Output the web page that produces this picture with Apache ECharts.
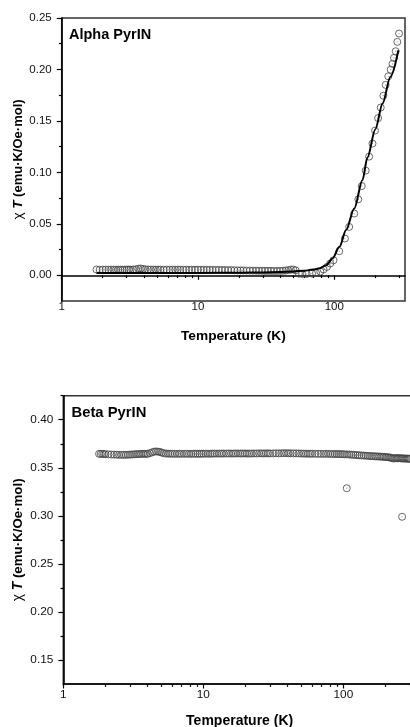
<!DOCTYPE html>
<html><head><meta charset="utf-8">
<script src="https://cdn.jsdelivr.net/npm/echarts@6/dist/echarts.min.js"></script>
<style>html,body{margin:0;padding:0;background:#fff}#c{width:410px;height:727px}</style>
</head><body><div id="c"></div>
<script>
// ---------- DATA ----------
const alphaTitle = 'Alpha PyrIN';
const betaTitle = 'Beta PyrIN';
const xTitle = 'Temperature (K)';

const xMajorTicks = [1, 10, 100];
const xMinorTicks = [2,3,4,5,6,7,8,9,20,30,40,50,60,70,80,90,200,300];
const alphaYMajor = [0, 0.05, 0.10, 0.15, 0.20, 0.25];
const alphaYMinor = [0.025, 0.075, 0.125, 0.175, 0.225];
const betaYMajor = [0.15, 0.20, 0.25, 0.30, 0.35, 0.40];
const betaYMinor = [0.175, 0.225, 0.275, 0.325, 0.375, 0.425];

const alphaT = [1.8,1.9,2.0,2.1,2.2,2.3,2.4,2.5,2.6,2.7,2.8,2.9,3.0,3.1,3.2,3.35,3.5,3.65,3.8,3.95,
  4.1,4.3,4.5,4.7,4.9,5.1,5.3,5.6,5.9,6.2,6.5,6.8,7.1,7.4,7.8,8.2,8.6,9.0,9.5,10,
  10.5,11,11.6,12.2,12.8,13.5,14.2,15,15.8,16.6,17.5,18.5,19.5,20.5,21.5,22.7,24,25.3,26.7,28,
  29.5,31,32.6,34.3,36,38,40,42,44,46,48,50,52,
  55,58,62.7,68.6,73.4,78.9,83.4,88.3,93.3,98.6,108.7,119.6,128.5,140,150,159,170,180,
  190.5,199,209.5,219,229,238,249,259,267,274,282,290,298.5];
const alphaChi = [0.0056,0.0054,0.0055,0.0055,0.0054,0.0055,0.0055,0.0054,0.0055,0.0055,0.0054,0.0055,0.0055,0.0056,0.0055,0.0056,0.0058,0.0064,0.0066,0.0062,
  0.0058,0.0056,0.0055,0.0055,0.0054,0.0055,0.0055,0.0054,0.0055,0.0054,0.0055,0.0054,0.0055,0.0054,0.0054,0.0054,0.0053,0.0054,0.0053,0.0054,
  0.0054,0.0053,0.0053,0.0053,0.0052,0.0052,0.0052,0.0051,0.0051,0.0050,0.0050,0.0049,0.0048,0.0048,0.0047,0.0046,0.0046,0.0045,0.0045,0.0044,
  0.0044,0.0043,0.0043,0.0043,0.0042,0.0042,0.0043,0.0044,0.0046,0.0050,0.0055,0.0056,0.0048,
  0.0016,0.0013,0.0013,0.0017,0.0022,0.0036,0.0056,0.0081,0.0114,0.0146,0.0234,0.0357,0.047,0.060,0.0738,0.0867,0.1017,0.1153,
  0.128,0.1406,0.1527,0.163,0.1745,0.185,0.1933,0.1998,0.2054,0.2112,0.2177,0.2268,0.2349];

const fitT = [1.8,5,10,20,30,40,50,60,70,78,87,97,109,122,140,161,175,200,226,258,295];
const fitChi = [0.0022,0.0022,0.0023,0.0025,0.0028,0.0031,0.0036,0.0045,0.0055,0.0068,0.0097,0.0163,0.0276,0.0439,0.065,0.0926,0.1145,0.142,0.167,0.193,0.2186];

const betaT = [1.8,1.85,1.9,1.95,2.0,2.1,2.2,2.3,2.4,
  2.5,2.6,2.7,2.8,2.9,3.0,3.1,3.2,
  3.3,3.4,3.5,3.6,3.7,3.8,3.9,4.0,
  4.15,4.3,4.45,4.6,4.75,4.9,5.05,5.2,
  5.4,5.6,5.8,6.0,6.25,6.5,6.75,7.0,
  7.3,7.6,7.9,8.2,8.5,8.8,9.1,9.4,9.7,
  10,10.4,10.8,11.2,11.6,12,12.5,13,13.5,14,
  14.6,15.2,15.8,16.4,17,17.7,18.4,19.1,19.8,20.5,
  21.3,22.1,23,24,25,26,27,28,29,30,
  31.5,33,34.5,36,37.5,39,40.5,42,44,46,48,50,
  52,54,56,58,60,63,66,69,72,75,78,81,84,87,90,93,96,99,
  102,105.7,106,110,114,118,122,126,130,135,140,145,150,155,160,
  165,170,175,180,185,190,195,200,205,210,215,220,225,230,235,240,245,250,255,260,262.6,265,270,275,280,285,290,295,300];
const betaChi = [0.3645,0.3644,0.3645,0.3643,0.3642,0.3640,0.3638,0.3637,0.3636,
  0.3635,0.3634,0.3635,0.3634,0.3636,0.3637,0.3638,0.3640,
  0.3641,0.3642,0.3643,0.3644,0.3645,0.3645,0.3644,0.3645,
  0.3652,0.3660,0.3668,0.3670,0.3668,0.3664,0.3658,0.3652,
  0.3648,0.3647,0.3646,0.3646,0.3645,0.3645,0.3646,0.3645,
  0.3645,0.3646,0.3645,0.3645,0.3646,0.3646,0.3645,0.3646,0.3646,
  0.3646,0.3647,0.3646,0.3646,0.3647,0.3648,0.3647,0.3648,0.3648,0.3648,
  0.3648,0.3649,0.3648,0.3648,0.3649,0.3649,0.3648,0.3649,0.3649,0.3648,
  0.3648,0.3648,0.3649,0.3649,0.3650,0.3650,0.3649,0.3650,0.3650,0.3649,
  0.3650,0.3651,0.3650,0.3651,0.3652,0.3652,0.3651,0.3651,0.3650,0.3650,0.3649,0.3648,
  0.3647,0.3647,0.3646,0.3646,0.3646,0.3645,0.3645,0.3645,0.3644,0.3645,0.3644,0.3644,0.3643,0.3643,0.3643,0.3642,0.3642,0.3641,
  0.3640,0.3287,0.3639,0.3638,0.3636,0.3635,0.3633,0.3632,0.3630,0.3628,0.3627,0.3625,0.3624,0.3622,0.3621,
  0.3620,0.3619,0.3618,0.3617,0.3616,0.3615,0.3613,0.3612,0.3611,0.3609,0.3607,0.3603,0.3599,0.3596,0.3602,0.3600,0.3598,0.3601,0.3599,0.3597,0.299,0.3598,0.3596,0.3597,0.3595,0.3596,0.3594,0.3595,0.3593];

// ---------- CHART ----------
const FONT = "'Liberation Sans', Arial, Helvetica, sans-serif";
const zip = (a, b) => a.map((v, i) => [v, b[i]]);

function xAxesFor(grid, fs, labelMargin, nameGap) {
  return [
    { gridIndex: grid, type: 'log', logBase: 10, min: 1, max: 330, position: 'bottom',
      name: xTitle, nameLocation: 'middle', nameGap: nameGap, nameMoveOverlap: false,
      nameTextStyle: { fontFamily: FONT, fontWeight: 'bold', fontSize: fs + 2.2, color: '#000' },
      axisLine: { show: true, lineStyle: { color: '#000', width: 1.6 } },
      axisTick: { show: true, inside: false, length: 4.5, lineStyle: { color: '#000', width: 1.2 }, customValues: xMajorTicks },
      axisLabel: { show: true, customValues: xMajorTicks, margin: labelMargin, fontFamily: FONT, fontSize: fs, color: '#111',
        formatter: v => String(Math.round(v)) },
      splitLine: { show: false } },
    { gridIndex: grid, type: 'log', logBase: 10, min: 1, max: 330, position: 'bottom',
      axisLine: { show: false },
      axisTick: { show: true, inside: false, length: 2.8, lineStyle: { color: '#000', width: 1.2 }, customValues: xMinorTicks },
      axisLabel: { show: false }, splitLine: { show: false } }
  ];
}
function yAxesFor(grid, min, max, major, minor, fs, nameGap, labelMargin) {
  return [
    { gridIndex: grid, type: 'value', min: min, max: max, position: 'left',
      name: '{g|χ }{i|T}{b| (emu·K/Oe·mol)}', nameLocation: 'middle', nameGap: nameGap, nameRotate: 90,
      nameMoveOverlap: false,
      nameTextStyle: { rich: {
        g: { fontFamily: FONT, fontSize: fs + 2, color: '#000' },
        i: { fontFamily: FONT, fontSize: fs + 2, fontWeight: 'bold', fontStyle: 'italic', color: '#000' },
        b: { fontFamily: FONT, fontSize: fs + 1.5, fontWeight: 'bold', color: '#000' } } },
      axisLine: { show: true, lineStyle: { color: '#000', width: 1.6 } },
      axisTick: { show: true, inside: false, length: 5, lineStyle: { color: '#000', width: 1.2 }, customValues: major },
      axisLabel: { show: true, customValues: major, margin: labelMargin, fontFamily: FONT, fontSize: fs, color: '#111',
        formatter: v => v.toFixed(2) },
      splitLine: { show: false } },
    { gridIndex: grid, type: 'value', min: min, max: max, position: 'left',
      axisLine: { show: false },
      axisTick: { show: true, inside: false, length: 2.8, lineStyle: { color: '#000', width: 1.2 }, customValues: minor },
      axisLabel: { show: false }, splitLine: { show: false } }
  ];
}

const circleStyle = { color: 'rgba(255,255,255,0)', borderColor: '#444', borderWidth: 1 };
const dotStyle = { color: '#888' };

const option = {
  animation: false,
  backgroundColor: '#fff',
  title: [
    { text: alphaTitle, left: 69, top: 27, padding: 0,
      textStyle: { fontFamily: FONT, fontWeight: 'bold', fontSize: 14.5, color: '#000' } },
    { text: betaTitle, left: 71.5, top: 405, padding: 0,
      textStyle: { fontFamily: FONT, fontWeight: 'bold', fontSize: 14.8, color: '#000' } }
  ],
  grid: [
    { left: 61.7, top: 18, right: 5, bottom: 426, show: true, borderColor: '#333', borderWidth: 1.5,
      containLabel: false, outerBoundsMode: 'none' },
    { left: 63.3, top: 395.7, right: -6, bottom: 43, show: true, borderColor: '#333', borderWidth: 1.5,
      containLabel: false, outerBoundsMode: 'none' }
  ],
  xAxis: [].concat(xAxesFor(0, 11.5, 0, 28), xAxesFor(1, 11.8, 4.5, 30)),
  yAxis: [].concat(
    yAxesFor(0, -0.025, 0.25, alphaYMajor, alphaYMinor, 11.5, 36, 10),
    yAxesFor(1, 0.125, 0.425, betaYMajor, betaYMinor, 11.8, 38, 10)),
  series: [
    { type: 'scatter', xAxisIndex: 0, yAxisIndex: 0, data: zip(alphaT, alphaChi),
      symbol: 'circle', symbolSize: 7, itemStyle: circleStyle, z: 2 },
    { type: 'scatter', xAxisIndex: 0, yAxisIndex: 0, data: zip(alphaT, alphaChi),
      symbol: 'circle', symbolSize: 1.3, itemStyle: dotStyle, z: 2 },
    { type: 'line', xAxisIndex: 0, yAxisIndex: 0, data: zip(fitT, fitChi),
      symbol: 'none', smooth: 0.3, smoothMonotone: 'x', lineStyle: { color: '#000', width: 2 }, z: 3 },
    { type: 'scatter', xAxisIndex: 2, yAxisIndex: 2, data: zip(betaT, betaChi),
      symbol: 'circle', symbolSize: 7, itemStyle: circleStyle, z: 2 },
    { type: 'scatter', xAxisIndex: 2, yAxisIndex: 2, data: zip(betaT, betaChi),
      symbol: 'circle', symbolSize: 1.3, itemStyle: dotStyle, z: 2 }
  ]
};

const chart = echarts.init(document.getElementById('c'), null, { renderer: 'canvas' });
chart.setOption(option);
</script></body></html>
